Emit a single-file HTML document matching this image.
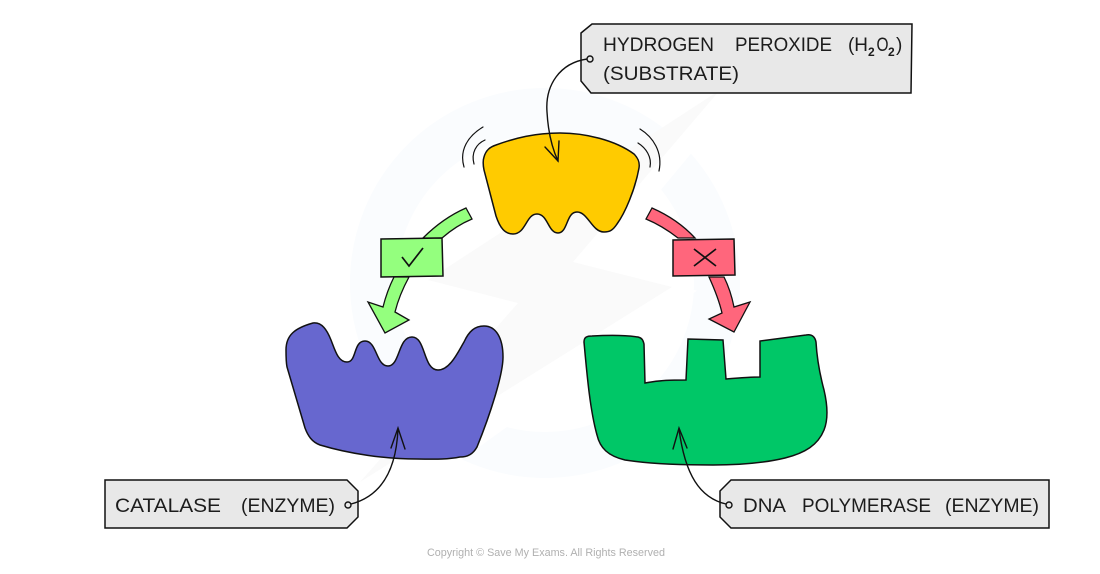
<!DOCTYPE html>
<html>
<head>
<meta charset="utf-8">
<style>
html,body{margin:0;padding:0;background:#fff;}
svg{display:block;}
text{font-family:"Liberation Sans",sans-serif;fill:#1c1c1c;}
</style>
</head>
<body>
<svg width="1100" height="574" viewBox="0 0 1100 574" xmlns="http://www.w3.org/2000/svg">
<rect width="1100" height="574" fill="#fff"/>
<!-- watermark -->
<circle cx="545" cy="283" r="172" fill="none" stroke="#fafcfe" stroke-width="46"/>
<polygon points="740,90 592,268 690,292 400,500 340,500 520,310 420,282" fill="#fff" stroke="#fff" stroke-width="6"/>
<polygon points="720,90 573,262 672,287 360,482 518,303 428,280" fill="#fafafa"/>
<!-- sound arcs -->
<g fill="none" stroke="#111" stroke-width="1.2" stroke-linecap="round">
<path d="M483 127 C468 136 459 150 464 167"/>
<path d="M485 140 C476 144 471 153 474 164"/>
<path d="M640 129 C653 137 663 152 659 171"/>
<path d="M638 143 C646 148 652 157 650 167"/>
</g>
<!-- yellow substrate -->
<path d="M484 157 C486 150 490 147 496 145 C515 138 535 133 560 133 C585 133 615 140 634 154 C638 158 640 162 639 168 C635 190 625 213 617 224 C613 230 610 232 604 232 C592 232 588 212 577 212 C566 212 568 233 558 233 C548 233 548 214 537 214 C526 214 526 234 513 234 C505 234 500 228 496 216 L484 170 C483 165 483 160 484 157 Z" fill="#ffcb00" stroke="#111" stroke-width="1.5"/>
<!-- purple enzyme -->
<path d="M286 350 C286 335 295 328 313 323 C322 322 327 330 331 340 C335 350 338 362 347 362 C357 362 353 341 365 341 C377 341 376 366 388 366 C400 366 398 337 412 337 C426 337 423 370 438 370 C450 370 458 352 464 342 C469 331 475 326 484 326 C496 326 503 338 503 357 C503 375 490 415 477 447 C473 454 468 457 460 457 C445 460 430 459 417 459 C385 459 350 454 320 445 C312 442 308 436 305 428 L287 367 C286 362 286 356 286 350 Z" fill="#6767cf" stroke="#111" stroke-width="1.5"/>
<!-- green enzyme -->
<path d="M584 342 C584 337 587 336 592 336 C610 335 625 335 638 337 C642 338 643 340 644 344 L645 383 C660 380 672 380 686 380 L688 339 L723 340 L726 379 C738 378 750 377 760 377 L760 341 L806 335 C812 334 815 337 816 342 C817 360 820 375 824 390 C828 407 828 420 824 430 C818 445 805 453 785 458 C760 464 735 465 713 465 C685 465 650 464 625 460 C608 456 600 448 597 435 C590 410 587 375 584 342 Z" fill="#00c767" stroke="#111" stroke-width="1.5"/>
<!-- green arrow -->
<g fill="#94ff7e" stroke="#111" stroke-width="1.3" stroke-linejoin="miter">
<path d="M466 208 L472 219 C460 224 450 231 442 238 L423 238 C435 226 450 215 466 208 Z"/>
<path d="M394 277 L409 277 C403 288 398 300 395 312 L409 320 L385 333 L368 302 L383 307 C386 295 390 285 394 277 Z"/>
<path d="M381 239 L442 238 L443 276 L381 277 Z" stroke-width="1.5"/>
</g>
<path d="M402 257 L409 266 L423 248" fill="none" stroke="#111" stroke-width="1.7"/>
<!-- red arrow -->
<g fill="#ff667c" stroke="#111" stroke-width="1.3" stroke-linejoin="miter">
<path d="M652 208 L646 219 C658 224 669 231 678 238 L695 238 C683 225 668 215 652 208 Z"/>
<path d="M709 277 L724 277 C729 287 732 297 734 307 L750 302 L734 332 L709 319 L722 313 C719 300 714 288 709 277 Z"/>
<path d="M673 240 L734 239 L735 275 L673 276 Z" stroke-width="1.5"/>
</g>
<path d="M694 249 L716 266 M716 249 L694 266" fill="none" stroke="#111" stroke-width="1.7"/>
<!-- labels -->
<g fill="#e8e8e8" stroke="#111" stroke-width="1.5">
<path d="M581 33 L592 24 L912 24 L911 93 L591 93 L581 81 Z"/>
<path d="M105 480 L347 480 L358 491 L358 517 L347 528 L105 528 Z"/>
<path d="M720 491 L731 480 L1049 480 L1049 528 L731 528 L720 517 Z"/>
</g>
<!-- leader lines -->
<g fill="none" stroke="#111" stroke-width="1.4" stroke-linecap="round">
<circle cx="590" cy="59" r="3"/>
<path d="M587 59 C560 63 545 85 547 112 C548 130 552 148 558 161"/>
<path d="M545 147 L558 161 L559 141"/>
<circle cx="348" cy="505" r="3"/>
<path d="M351 504 C378 497 396 475 398 429"/>
<path d="M391 448 L398 428 L405 449"/>
<circle cx="729" cy="505" r="3"/>
<path d="M726 504 C700 498 685 475 679 429"/>
<path d="M673 449 L679 428 L687 448"/>
</g>
<!-- text -->
<text x="603" y="51" font-size="19" textLength="111" lengthAdjust="spacingAndGlyphs">HYDROGEN</text>
<text x="735" y="51" font-size="19" textLength="97" lengthAdjust="spacingAndGlyphs">PEROXIDE</text>
<text x="848" y="51" font-size="19" textLength="20" lengthAdjust="spacingAndGlyphs">(H</text>
<text x="868" y="56" font-size="12" font-weight="bold">2</text>
<text x="876.5" y="51" font-size="19" textLength="12" lengthAdjust="spacingAndGlyphs">O</text>
<text x="888" y="56" font-size="12" font-weight="bold">2</text>
<text x="896" y="51" font-size="19">)</text>
<text x="603" y="80" font-size="19" textLength="136" lengthAdjust="spacingAndGlyphs">(SUBSTRATE)</text>
<text x="115" y="512" font-size="19" textLength="106" lengthAdjust="spacingAndGlyphs">CATALASE</text>
<text x="241" y="512" font-size="19" textLength="94" lengthAdjust="spacingAndGlyphs">(ENZYME)</text>
<text x="743" y="512" font-size="19" textLength="43" lengthAdjust="spacingAndGlyphs">DNA</text>
<text x="802" y="512" font-size="19" textLength="129" lengthAdjust="spacingAndGlyphs">POLYMERASE</text>
<text x="945" y="512" font-size="19" textLength="94" lengthAdjust="spacingAndGlyphs">(ENZYME)</text>
<text x="427" y="556" font-size="11" textLength="238" lengthAdjust="spacingAndGlyphs" style="fill:#b0b0b0">Copyright © Save My Exams. All Rights Reserved</text>
</svg>
</body>
</html>
